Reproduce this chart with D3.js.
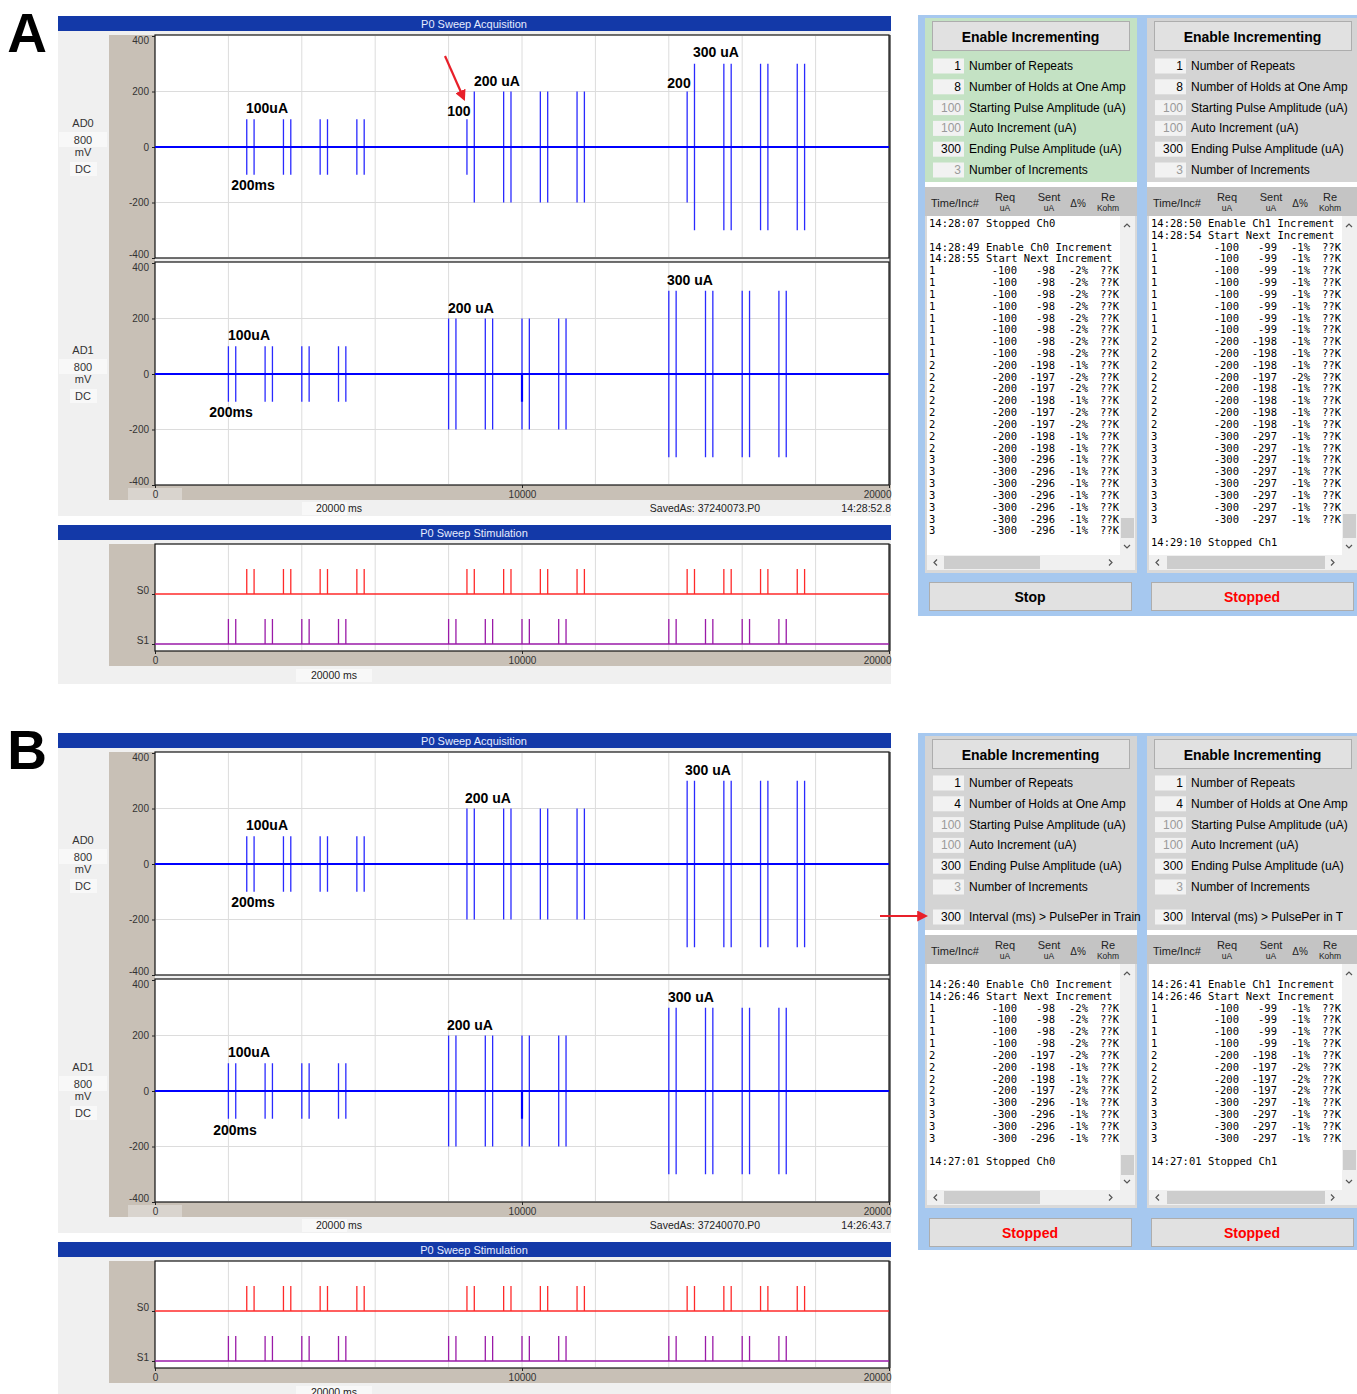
<!DOCTYPE html>
<html>
<head>
<meta charset="utf-8">
<script src="https://cdn.jsdelivr.net/npm/d3@7"></script>
<style>
  body { margin: 0; background: #fff; }
  svg text { font-family: "Liberation Sans", Arial, sans-serif; }
</style>
</head>
<body>
<svg id="fig" width="1357" height="1394"></svg>
<script>
// ---- data ----
var X_TICKS = [0, 10000, 20000];
var Y_TICKS = [-400, -200, 0, 200, 400];
var GRID_T = [2000, 4000, 6000, 8000, 10000, 12000, 14000, 16000, 18000];
var GRID_V = [-200, 200];
var STIM_CHANNELS = ["S0", "S1"];

// pulse onset times (ms) per channel
var AD0_TIMES = [2500, 2700, 3500, 3700, 4500, 4700, 5500, 5700,
                 8500, 8700, 9500, 9700, 10500, 10700, 11500, 11700,
                 14500, 14700, 15500, 15700, 16500, 16700, 17500, 17700];
var AD1_TIMES = [2000, 2200, 3000, 3200, 4000, 4200, 5000, 5200,
                 8000, 8200, 9000, 9200, 10000, 10200, 11000, 11200,
                 14000, 14200, 15000, 15200, 16000, 16200, 17000, 17200];

// recorded amplitude (mV) of every pulse
var A_AD0_AMPS = [100, 100, 100, 100, 100, 100, 100, 100,
                  100, 200, 200, 200, 200, 200, 200, 200,
                  200, 300, 300, 300, 300, 300, 300, 300];
var A_AD1_AMPS = [100, 100, 100, 100, 100, 100, 100, 100,
                  200, 200, 200, 200, 200, 200, 200, 200,
                  300, 300, 300, 300, 300, 300, 300, 300];
var B_AD0_AMPS = [100, 100, 100, 100, 100, 100, 100, 100,
                  200, 200, 200, 200, 200, 200, 200, 200,
                  300, 300, 300, 300, 300, 300, 300, 300];
var B_AD1_AMPS = [100, 100, 100, 100, 100, 100, 100, 100,
                  200, 200, 200, 200, 200, 200, 200, 200,
                  300, 300, 300, 300, 300, 300, 300, 300];
var AD1_ARTIFACT = [[10000, -100]];

// annotations: [text, time ms, value mV]
var A_AD0_NOTES = [["100uA", 3052, 140], ["200ms", 2670, -137], ["100", 8283, 130],
                   ["200 uA", 9319, 238], ["200", 14278, 231], ["300 uA", 15286, 342]];
var A_AD1_NOTES = [["100uA", 2561, 140], ["200ms", 2071, -137],
                   ["200 uA", 8610, 238], ["300 uA", 14578, 339]];
var B_AD0_NOTES = [["100uA", 3052, 140], ["200ms", 2670, -137],
                   ["200 uA", 9074, 238], ["300 uA", 15068, 339]];
var B_AD1_NOTES = [["100uA", 2561, 140], ["200ms", 2180, -141],
                   ["200 uA", 8583, 238], ["300 uA", 14605, 339]];

var SETTING_LABELS = ["Number of Repeats", "Number of Holds at One Amp",
                      "Starting Pulse Amplitude (uA)", "Auto Increment (uA)",
                      "Ending Pulse Amplitude (uA)", "Number of Increments"];
var SETTING_DISABLED = [false, false, true, true, false, true];
var A_SETTINGS = [1, 8, 100, 100, 300, 3];
var B_SETTINGS = [1, 4, 100, 100, 300, 3];
var B_INTERVAL = [300, "Interval (ms) > PulsePer in Train"];

var A_LOG_CH0 = [
  "14:28:07 Stopped Ch0", "",
  "14:28:49 Enable Ch0 Increment", "14:28:55 Start Next Increment",
  [1, -100, -98, "-2%"], [1, -100, -98, "-2%"], [1, -100, -98, "-2%"], [1, -100, -98, "-2%"],
  [1, -100, -98, "-2%"], [1, -100, -98, "-2%"], [1, -100, -98, "-2%"], [1, -100, -98, "-2%"],
  [2, -200, -198, "-1%"], [2, -200, -197, "-2%"], [2, -200, -197, "-2%"], [2, -200, -198, "-1%"],
  [2, -200, -197, "-2%"], [2, -200, -197, "-2%"], [2, -200, -198, "-1%"], [2, -200, -198, "-1%"],
  [3, -300, -296, "-1%"], [3, -300, -296, "-1%"], [3, -300, -296, "-1%"], [3, -300, -296, "-1%"],
  [3, -300, -296, "-1%"], [3, -300, -296, "-1%"], [3, -300, -296, "-1%"]
];
var A_LOG_CH1 = [
  "14:28:50 Enable Ch1 Increment", "14:28:54 Start Next Increment",
  [1, -100, -99, "-1%"], [1, -100, -99, "-1%"], [1, -100, -99, "-1%"], [1, -100, -99, "-1%"],
  [1, -100, -99, "-1%"], [1, -100, -99, "-1%"], [1, -100, -99, "-1%"], [1, -100, -99, "-1%"],
  [2, -200, -198, "-1%"], [2, -200, -198, "-1%"], [2, -200, -198, "-1%"], [2, -200, -197, "-2%"],
  [2, -200, -198, "-1%"], [2, -200, -198, "-1%"], [2, -200, -198, "-1%"], [2, -200, -198, "-1%"],
  [3, -300, -297, "-1%"], [3, -300, -297, "-1%"], [3, -300, -297, "-1%"], [3, -300, -297, "-1%"],
  [3, -300, -297, "-1%"], [3, -300, -297, "-1%"], [3, -300, -297, "-1%"], [3, -300, -297, "-1%"],
  "", "14:29:10 Stopped Ch1"
];
var B_LOG_CH0 = [
  "14:26:40 Enable Ch0 Increment", "14:26:46 Start Next Increment",
  [1, -100, -98, "-2%"], [1, -100, -98, "-2%"], [1, -100, -98, "-2%"], [1, -100, -98, "-2%"],
  [2, -200, -197, "-2%"], [2, -200, -198, "-1%"], [2, -200, -198, "-1%"], [2, -200, -197, "-2%"],
  [3, -300, -296, "-1%"], [3, -300, -296, "-1%"], [3, -300, -296, "-1%"], [3, -300, -296, "-1%"],
  "", "14:27:01 Stopped Ch0"
];
var B_LOG_CH1 = [
  "14:26:41 Enable Ch1 Increment", "14:26:46 Start Next Increment",
  [1, -100, -99, "-1%"], [1, -100, -99, "-1%"], [1, -100, -99, "-1%"], [1, -100, -99, "-1%"],
  [2, -200, -198, "-1%"], [2, -200, -197, "-2%"], [2, -200, -197, "-2%"], [2, -200, -197, "-2%"],
  [3, -300, -297, "-1%"], [3, -300, -297, "-1%"], [3, -300, -297, "-1%"], [3, -300, -297, "-1%"],
  "", "14:27:01 Stopped Ch1"
];

// ---- drawing ----
var MONO = '"DejaVu Sans Mono", "Liberation Mono", monospace';
var TAN = "#c8c0b6";
var LINE_H = 11.82;
var PULSE_H = 25;
var plain = function (d) { return String(d); };

var svg = d3.select("#fig");
var x = d3.scaleLinear().domain([0, 20000]).range([155, 889]);

var defs = svg.append("defs");
defs.append("marker")
  .attr("id", "head").attr("viewBox", "0 0 10 10")
  .attr("refX", 8).attr("refY", 5)
  .attr("markerWidth", 5).attr("markerHeight", 5)
  .attr("orient", "auto-start-reverse")
  .append("path").attr("d", "M0,0L10,5L0,10z").attr("fill", "#e8202a");
defs.append("clipPath").attr("id", "rightEdge")
  .append("rect").attr("x", 0).attr("y", 0).attr("width", 1343).attr("height", 1394);

function styleAxis(sel) {
  sel.select(".domain").remove();
  sel.selectAll(".tick line").attr("stroke", "#222");
  sel.selectAll(".tick text").attr("fill", "#333")
    .style("font-family", '"Liberation Sans", Arial, sans-serif').style("font-size", "10px");
}

function titleBar(g, y, label) {
  g.append("rect").attr("x", 58).attr("y", y).attr("width", 833).attr("height", 15).attr("fill", "#1339a8");
  g.append("text").attr("x", 474).attr("y", y + 8).attr("text-anchor", "middle")
    .attr("dominant-baseline", "central").attr("fill", "#e6ecff").style("font-size", "11px").text(label);
}

function plotFrame(g, y0, y1) {
  g.append("rect").attr("x", x(0)).attr("y", y0).attr("width", x(20000) - x(0)).attr("height", y1 - y0)
    .attr("fill", "#fff").attr("stroke", "#111").attr("stroke-width", 1.2);
  g.selectAll(null).data(GRID_T).enter().append("line")
    .attr("x1", function (d) { return x(d); }).attr("x2", function (d) { return x(d); })
    .attr("y1", y0 + 1).attr("y2", y1 - 1).attr("stroke", "#dcdcdc");
}

function drawTrace(g, y, times, amps, artifacts, notes, chan) {
  var bot = y.range()[0], top = y.range()[1] - 1;
  plotFrame(g, top, bot);
  g.selectAll(null).data(GRID_V).enter().append("line")
    .attr("x1", x(0) + 1).attr("x2", x(20000) - 1)
    .attr("y1", function (d) { return y(d); }).attr("y2", function (d) { return y(d); })
    .attr("stroke", "#dcdcdc");
  var ax = g.append("g").attr("transform", "translate(" + x(0) + ",0)")
    .call(d3.axisLeft(y).tickValues(Y_TICKS).tickSize(3).tickFormat(plain)).call(styleAxis);
  // the end labels sit inside the plot height
  ax.selectAll(".tick text").attr("y", function (d) { return d === 400 ? 4 : (d === -400 ? -4 : 0); });

  g.selectAll(null).data(d3.zip(times, amps)).enter().append("line")
    .attr("x1", function (d) { return x(d[0]); }).attr("x2", function (d) { return x(d[0]); })
    .attr("y1", function (d) { return y(d[1]); }).attr("y2", function (d) { return y(-d[1]); })
    .attr("stroke", "#2a2aff").attr("stroke-width", 1.3);
  g.append("path").datum([[0, 0], [20000, 0]])
    .attr("d", d3.line().x(function (d) { return x(d[0]); }).y(function (d) { return y(d[1]); }))
    .attr("stroke", "#0000ff").attr("stroke-width", 2).attr("fill", "none");
  g.selectAll(null).data(artifacts).enter().append("line")
    .attr("x1", function (d) { return x(d[0]); }).attr("x2", function (d) { return x(d[0]); })
    .attr("y1", y(0)).attr("y2", function (d) { return y(d[1]); })
    .attr("stroke", "#0000ff").attr("stroke-width", 2.2);

  g.selectAll(null).data(notes).enter().append("text")
    .attr("x", function (d) { return x(d[1]); }).attr("y", function (d) { return y(d[2]); })
    .attr("text-anchor", "middle").attr("dominant-baseline", "central")
    .style("font-size", "14px").style("font-weight", "bold").attr("fill", "#000")
    .text(function (d) { return d[0]; });

  // channel label stack
  var zy = y(0);
  g.append("rect").attr("x", 59).attr("y", zy - 15).attr("width", 48).attr("height", 15).attr("fill", "#f8f8f8");
  g.append("rect").attr("x", 70).attr("y", zy + 15).attr("width", 27).attr("height", 14).attr("fill", "#f8f8f8");
  [[chan, -24], ["800", -7], ["mV", 5], ["DC", 22]].forEach(function (d) {
    g.append("text").attr("x", 83).attr("y", zy + d[1]).attr("text-anchor", "middle")
      .attr("dominant-baseline", "central").attr("fill", "#333").style("font-size", "11px").text(d[0]);
  });
}

function xAxisBottom(g, yb) {
  var ax = g.append("g").attr("transform", "translate(0," + yb + ")")
    .call(d3.axisBottom(x).tickValues(X_TICKS).tickSize(3).tickFormat(plain)).call(styleAxis);
  ax.selectAll(".tick text").filter(function (d) { return d === 20000; })
    .attr("text-anchor", "end").attr("x", 2);
}

function drawScope(oy, cfg) {
  var g = svg.append("g").attr("transform", "translate(0," + oy + ")");
  // acquisition window
  g.append("rect").attr("x", 58).attr("y", 31).attr("width", 833).attr("height", 485).attr("fill", "#f0f0f0");
  titleBar(g, 16, "P0 Sweep Acquisition");
  g.append("rect").attr("x", 109).attr("y", 35).attr("width", 46).attr("height", 465).attr("fill", TAN);
  g.append("rect").attr("x", 155).attr("y", 485).attr("width", 736).attr("height", 15).attr("fill", TAN);
  g.append("rect").attr("x", 128).attr("y", 488).attr("width", 54).attr("height", 12).attr("fill", "#d9d4ce");
  g.append("rect").attr("x", 889).attr("y", 35).attr("width", 2).attr("height", 450).attr("fill", "#777");

  var y0 = d3.scaleLinear().domain([-400, 400]).range([258, 36]);
  var y1 = d3.scaleLinear().domain([-400, 400]).range([485, 263]);
  drawTrace(g, y0, AD0_TIMES, cfg.ad0Amps, [], cfg.ad0Notes, "AD0");
  drawTrace(g, y1, AD1_TIMES, cfg.ad1Amps, AD1_ARTIFACT, cfg.ad1Notes, "AD1");
  xAxisBottom(g, 485);

  g.append("rect").attr("x", 302).attr("y", 502).attr("width", 45).attr("height", 13).attr("fill", "#f8f8f8");
  g.append("text").attr("x", 339).attr("y", 508).attr("text-anchor", "middle").attr("dominant-baseline", "central")
    .attr("fill", "#222").style("font-size", "10.5px").text("20000 ms");
  g.append("text").attr("x", 705).attr("y", 508).attr("text-anchor", "middle").attr("dominant-baseline", "central")
    .attr("fill", "#222").style("font-size", "10.5px").text(cfg.savedAs);
  g.append("text").attr("x", 891).attr("y", 508).attr("text-anchor", "end").attr("dominant-baseline", "central")
    .attr("fill", "#222").style("font-size", "10.5px").text(cfg.stamp);

  // stimulation window
  g.append("rect").attr("x", 58).attr("y", 540).attr("width", 833).attr("height", 144).attr("fill", "#f0f0f0");
  titleBar(g, 525, "P0 Sweep Stimulation");
  g.append("rect").attr("x", 109).attr("y", 544).attr("width", 46).attr("height", 122).attr("fill", TAN);
  g.append("rect").attr("x", 155).attr("y", 651).attr("width", 736).attr("height", 15).attr("fill", TAN);
  g.append("rect").attr("x", 889).attr("y", 544).attr("width", 2).attr("height", 107).attr("fill", "#777");
  plotFrame(g, 544, 651);

  var ys = d3.scalePoint().domain(STIM_CHANNELS).range([594, 644]);
  var sax = g.append("g").attr("transform", "translate(" + x(0) + ",0)")
    .call(d3.axisLeft(ys).tickSize(3)).call(styleAxis);
  sax.selectAll(".tick text").attr("y", -4);
  var stim = [
    { ch: "S0", times: AD0_TIMES, color: "#ff2a2a" },
    { ch: "S1", times: AD1_TIMES, color: "#9a1aa8" }
  ];
  stim.forEach(function (s) {
    var by = ys(s.ch);
    g.selectAll(null).data(s.times).enter().append("line")
      .attr("x1", function (d) { return x(d); }).attr("x2", function (d) { return x(d); })
      .attr("y1", by).attr("y2", by - PULSE_H)
      .attr("stroke", s.color).attr("stroke-width", 1.3);
    g.append("line").attr("x1", x(0)).attr("x2", x(20000)).attr("y1", by).attr("y2", by)
      .attr("stroke", s.color).attr("stroke-width", 1.4);
  });
  xAxisBottom(g, 651);
  g.append("rect").attr("x", 296).attr("y", 669).attr("width", 76).attr("height", 13).attr("fill", "#f8f8f8");
  g.append("text").attr("x", 334).attr("y", 675).attr("text-anchor", "middle").attr("dominant-baseline", "central")
    .attr("fill", "#222").style("font-size", "10.5px").text("20000 ms");

  // panel letter
  svg.append("text").attr("x", 27).attr("y", oy + 52).attr("text-anchor", "middle")
    .style("font-size", "55px").style("font-weight", "bold").attr("fill", "#000").text(cfg.letter);
}

function chevron(g, cx, cy, dir) {
  var pts = {
    up: [[cx - 3, cy + 2], [cx, cy - 1], [cx + 3, cy + 2]],
    down: [[cx - 3, cy - 2], [cx, cy + 1], [cx + 3, cy - 2]],
    left: [[cx + 2, cy - 3], [cx - 1, cy], [cx + 2, cy + 3]],
    right: [[cx - 2, cy - 3], [cx + 1, cy], [cx - 2, cy + 3]]
  }[dir];
  g.append("path").attr("d", d3.line()(pts)).attr("fill", "none").attr("stroke", "#555").attr("stroke-width", 1.2);
}

function button(g, bx, by, w, h, label, color) {
  g.append("rect").attr("x", bx + 0.5).attr("y", by + 0.5).attr("width", w).attr("height", h)
    .attr("fill", "#e1e1e1").attr("stroke", "#adadad");
  g.append("text").attr("x", bx + w / 2).attr("y", by + h / 2 + 1).attr("text-anchor", "middle")
    .attr("dominant-baseline", "central").style("font-size", "14px").style("font-weight", "bold")
    .attr("fill", color).text(label);
}

function settingRow(g, x0, cy, value, label, disabled) {
  g.append("rect").attr("x", x0 + 8).attr("y", cy - 7.5).attr("width", 31).attr("height", 15).attr("fill", "#f2f2f2");
  g.append("text").attr("x", x0 + 36).attr("y", cy).attr("text-anchor", "end").attr("dominant-baseline", "central")
    .style("font-size", "12px").attr("fill", disabled ? "#9a9a9a" : "#000").text(value);
  g.append("text").attr("x", x0 + 44).attr("y", cy).attr("dominant-baseline", "central")
    .style("font-size", "12px").attr("fill", "#000").text(label);
}

function drawLog(g, x0, firstY, lines) {
  var rows = g.selectAll(null).data(lines).enter().append("g")
    .attr("transform", function (d, i) { return "translate(" + x0 + "," + (firstY + i * LINE_H) + ")"; })
    .style("font-family", MONO).style("font-size", "10.5px").attr("fill", "#000");
  rows.filter(function (d) { return typeof d === "string"; }).append("text")
    .attr("x", 4).attr("dominant-baseline", "central").style("font-family", MONO)
    .text(function (d) { return d; });
  var num = rows.filter(function (d) { return typeof d !== "string"; });
  [[4, 0, "start"], [92, 1, "end"], [130, 2, "end"], [163, 3, "end"]].forEach(function (c) {
    num.append("text").attr("x", c[0]).attr("text-anchor", c[2]).attr("dominant-baseline", "central")
      .style("font-family", MONO).text(function (d) { return d[c[1]]; });
  });
  num.append("text").attr("x", 194).attr("text-anchor", "end").attr("dominant-baseline", "central")
    .style("font-family", MONO).text("??K");
}

function drawControl(P) {
  var g = svg.append("g");
  g.append("rect").attr("x", 918).attr("y", P.top).attr("width", 439).attr("height", P.bottom - P.top).attr("fill", "#a6c8ef");
  P.cols.forEach(function (c) {
    var x0 = c.x0, W = 212;
    g.append("rect").attr("x", x0).attr("y", P.top + 3).attr("width", W).attr("height", P.setEnd - P.top - 3).attr("fill", c.bg);
    button(g, x0 + 7, P.top + 6, 197, 29, "Enable Incrementing", "#000");
    c.values.forEach(function (v, i) {
      settingRow(g, x0, P.rowY0 + i * 20.8, v, SETTING_LABELS[i], SETTING_DISABLED[i]);
    });
    if (P.intervalY) {
      var ig = g.append("g").attr("clip-path", "url(#rightEdge)");
      settingRow(ig, x0, P.intervalY, B_INTERVAL[0], B_INTERVAL[1], false);
    }
    g.append("rect").attr("x", x0).attr("y", P.setEnd).attr("width", W).attr("height", 5).attr("fill", "#fff");
    // column header
    var hy = P.setEnd + 5;
    g.append("rect").attr("x", x0).attr("y", hy).attr("width", W).attr("height", 29).attr("fill", "#c4c4c4");
    var ht = g.append("g").attr("fill", "#222");
    ht.append("text").attr("x", x0 + 6).attr("y", hy + 16).attr("dominant-baseline", "central").style("font-size", "11px").text("Time/Inc#");
    [["Req", "uA", 80], ["Sent", "uA", 124], ["Re", "Kohm", 183]].forEach(function (d) {
      ht.append("text").attr("x", x0 + d[2]).attr("y", hy + 10).attr("text-anchor", "middle").attr("dominant-baseline", "central").style("font-size", "11px").text(d[0]);
      ht.append("text").attr("x", x0 + d[2]).attr("y", hy + 21).attr("text-anchor", "middle").attr("dominant-baseline", "central").style("font-size", "8.5px").text(d[1]);
    });
    ht.append("text").attr("x", x0 + 153).attr("y", hy + 16).attr("text-anchor", "middle").attr("dominant-baseline", "central").style("font-size", "10px").text("\u0394%");
    // log box
    var lt = hy + 29;
    g.append("rect").attr("x", x0).attr("y", lt).attr("width", W).attr("height", P.contEnd - lt).attr("fill", "#d9d9d9");
    g.append("rect").attr("x", x0 + 2).attr("y", lt).attr("width", 193).attr("height", P.logBot - lt).attr("fill", "#fff");
    g.append("rect").attr("x", x0 + 195).attr("y", lt).attr("width", 15).attr("height", P.logBot - lt).attr("fill", "#f0f0f0");
    g.append("rect").attr("x", x0 + 196).attr("y", c.vThumb[0]).attr("width", 13).attr("height", c.vThumb[1] - c.vThumb[0]).attr("fill", "#cdcdcd");
    chevron(g, x0 + 202, lt + 9, "up");
    chevron(g, x0 + 202, P.logBot - 8, "down");
    g.append("rect").attr("x", x0 + 2).attr("y", P.logBot).attr("width", 208).attr("height", 15).attr("fill", "#f0f0f0");
    g.append("rect").attr("x", c.hThumb[0]).attr("y", P.logBot + 1).attr("width", c.hThumb[1] - c.hThumb[0]).attr("height", 13).attr("fill", "#cdcdcd");
    chevron(g, x0 + 10, P.logBot + 7.5, "left");
    chevron(g, x0 + 186, P.logBot + 7.5, "right");
    drawLog(g, x0, c.firstY, c.log);
    button(g, x0 + 4, P.btnTop, 202, 28, c.btn, c.btnColor);
  });
}

// ---- panel A ----
drawScope(0, {
  letter: "A", ad0Amps: A_AD0_AMPS, ad1Amps: A_AD1_AMPS,
  ad0Notes: A_AD0_NOTES, ad1Notes: A_AD1_NOTES,
  savedAs: "SavedAs: 37240073.P0", stamp: "14:28:52.8"
});
drawControl({
  top: 15, bottom: 616, setEnd: 182, rowY0: 66, logBot: 555, contEnd: 573, btnTop: 582,
  cols: [
    { x0: 925, bg: "#c4e2c4", values: A_SETTINGS, log: A_LOG_CH0, firstY: 223,
      vThumb: [518, 538], hThumb: [944, 1040], btn: "Stop", btnColor: "#000" },
    { x0: 1147, bg: "#d4d4d4", values: A_SETTINGS, log: A_LOG_CH1, firstY: 223,
      vThumb: [514, 538], hThumb: [1167, 1325], btn: "Stopped", btnColor: "#ff0000" }
  ]
});
svg.append("line").attr("x1", 445).attr("y1", 56).attr("x2", 464).attr("y2", 99)
  .attr("stroke", "#e8202a").attr("stroke-width", 2.2).attr("marker-end", "url(#head)");

// ---- panel B ----
drawScope(717, {
  letter: "B", ad0Amps: B_AD0_AMPS, ad1Amps: B_AD1_AMPS,
  ad0Notes: B_AD0_NOTES, ad1Notes: B_AD1_NOTES,
  savedAs: "SavedAs: 37240070.P0", stamp: "14:26:43.7"
});
drawControl({
  top: 733, bottom: 1250, setEnd: 930, rowY0: 783, intervalY: 917, logBot: 1190, contEnd: 1208, btnTop: 1218,
  cols: [
    { x0: 925, bg: "#d4d4d4", values: B_SETTINGS, log: B_LOG_CH0, firstY: 984,
      vThumb: [1155, 1175], hThumb: [944, 1040], btn: "Stopped", btnColor: "#ff0000" },
    { x0: 1147, bg: "#d4d4d4", values: B_SETTINGS, log: B_LOG_CH1, firstY: 984,
      vThumb: [1150, 1170], hThumb: [1167, 1325], btn: "Stopped", btnColor: "#ff0000" }
  ]
});
svg.append("line").attr("x1", 880).attr("y1", 916).attr("x2", 926).attr("y2", 916)
  .attr("stroke", "#e8202a").attr("stroke-width", 2.2).attr("marker-end", "url(#head)");
</script>
</body>
</html>
